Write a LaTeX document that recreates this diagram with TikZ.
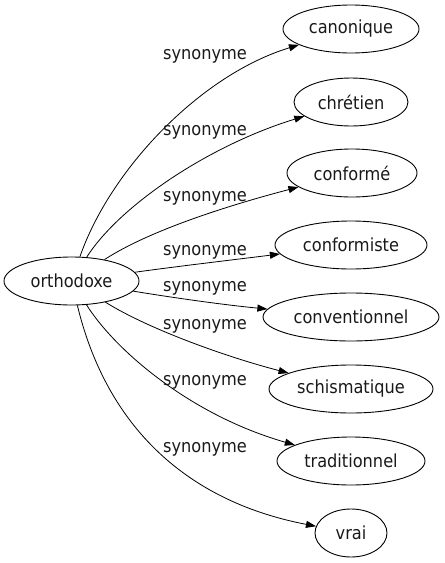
\documentclass[tikz,border=0pt]{standalone}
\usepackage{fontspec}
\setmainfont{DejaVu Sans Condensed}
\usetikzlibrary{shapes.geometric,arrows.meta}
\begin{document}
\begin{tikzpicture}[x=1pt,y=-1pt,
  every node/.style={font=\fontsize{18}{20}\selectfont, text=black!90},
  word/.style={draw, ellipse, inner sep=0pt, minimum height=48pt, line width=0.9pt},
  rel/.style={anchor=base west, inner sep=0pt},
  syn/.style={draw, line width=0.8pt, -{Triangle[length=10pt,width=7pt]}}]
\useasboundingbox (0,0) rectangle (445,563);
\node[word, minimum width=135pt] (o) at (71.5,281) {orthodoxe};
\node[word, minimum width=136pt] (t1) at (351,29) {canonique};
\node[word, minimum width=114pt] (t2) at (351,102) {chrétien};
\node[word, minimum width=130pt] (t3) at (352,173) {conformé};
\node[word, minimum width=152pt] (t4) at (351,245) {conformiste};
\node[word, minimum width=176pt] (t5) at (351,317) {conventionnel};
\node[word, minimum width=164pt] (t6) at (351,389) {schismatique};
\node[word, minimum width=148pt] (t7) at (351,461) {traditionnel};
\node[word, minimum width=72pt] (t8) at (351,533) {vrai};
\draw[syn] (o) .. controls (110,170) and (200,75) .. (t1);
\draw[syn] (o) .. controls (120,205) and (210,145) .. (t2);
\draw[syn] (o) .. controls (150,230) and (230,205) .. (t3);
\draw[syn] (o) .. controls (180,266) and (240,259) .. (t4);
\draw[syn] (o) .. controls (175,298) and (225,305) .. (t5);
\draw[syn] (o) .. controls (150,330) and (230,358) .. (t6);
\draw[syn] (o) .. controls (115,350) and (190,415) .. (t7);
\draw[syn] (o) .. controls (105,420) and (180,500) .. (t8);
\node[rel] (l1) at (163,59) {synonyme};
\node[rel] (l2) at (163,135) {synonyme};
\node[rel] (l3) at (163,201) {synonyme};
\node[rel] (l4) at (163,255) {synonyme};
\node[rel] (l5) at (163,291) {synonyme};
\node[rel] (l6) at (163,329) {synonyme};
\node[rel] (l7) at (163,385) {synonyme};
\node[rel] (l8) at (163,452) {synonyme};
\end{tikzpicture}
\end{document}
